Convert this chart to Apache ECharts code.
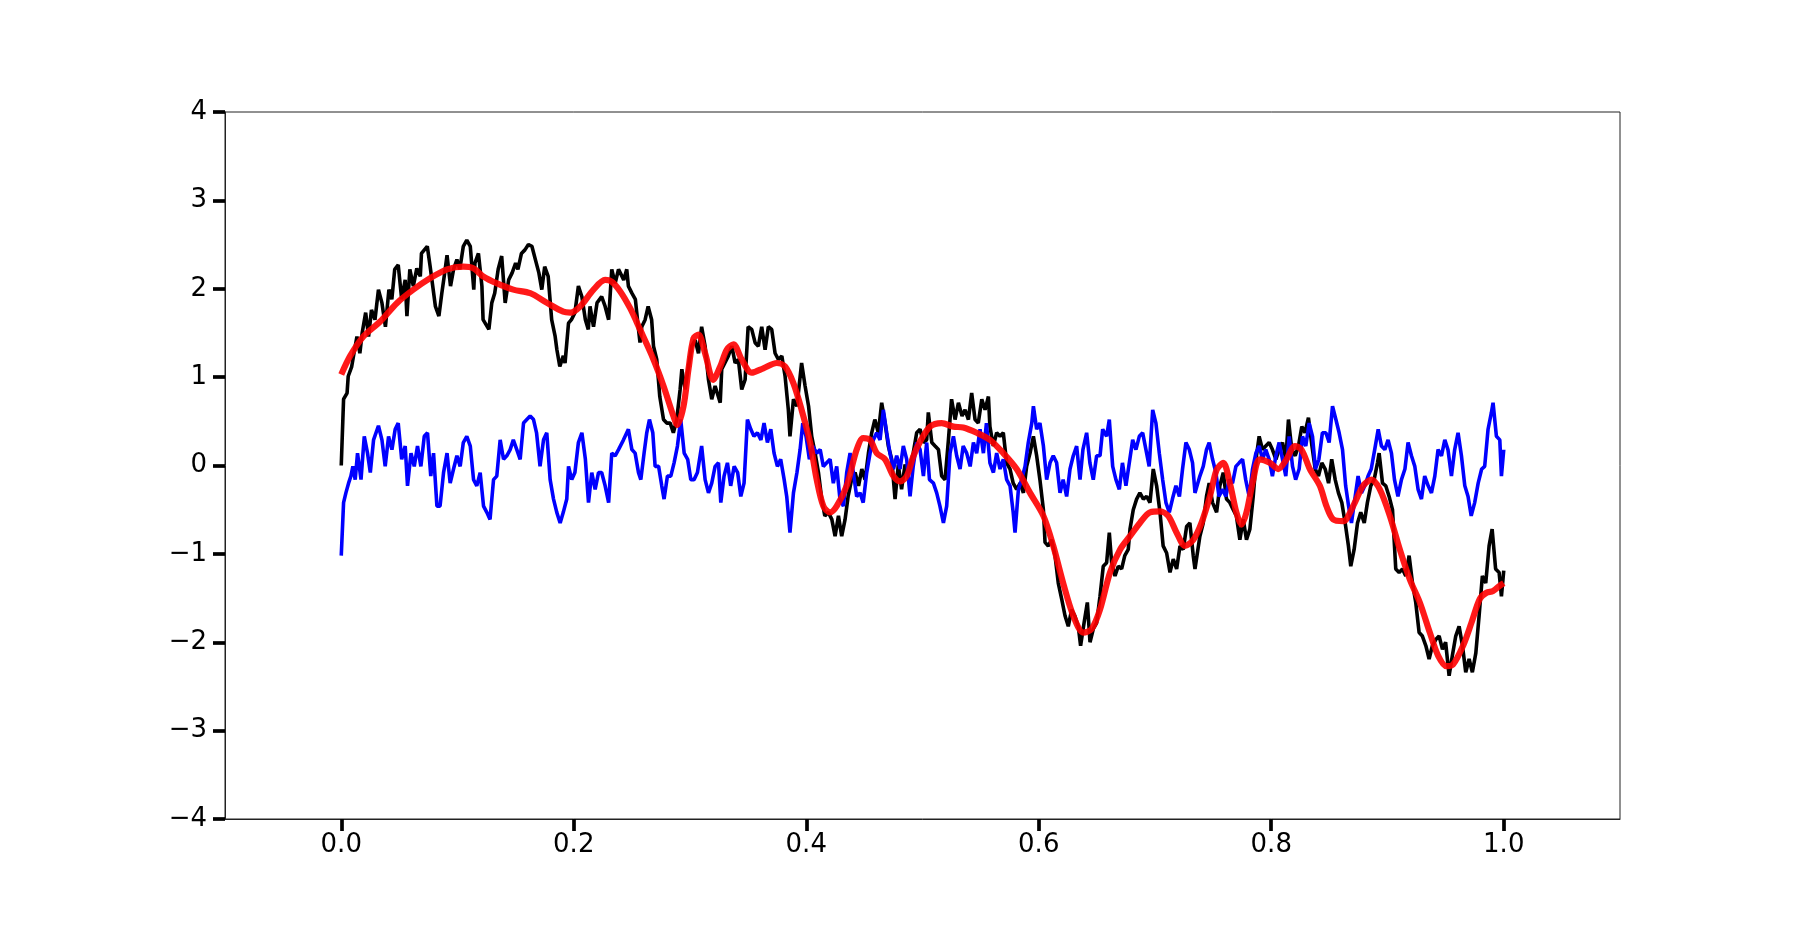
<!DOCTYPE html>
<html>
<head>
<meta charset="utf-8">
<script src="https://cdn.jsdelivr.net/npm/echarts@6/dist/echarts.min.js"></script>
<style>
  html, body { margin: 0; padding: 0; background: #fff; }
  #chart { width: 1800px; height: 936px; }
</style>
</head>
<body>
<div id="chart"></div>
<script>
// tick labels
var xTicks = [0.0, 0.2, 0.4, 0.6, 0.8, 1.0];
var yTicks = [-4, -3, -2, -1, 0, 1, 2, 3, 4];

// noisy path (black), [x, y]
var blackPath = [
  [0, 0.0], [0.002, 0.75], [0.005, 0.82], [0.006, 1.01], [0.009, 1.12], [0.012, 1.35], [0.0135, 1.46],
  [0.016, 1.27], [0.018, 1.50], [0.021, 1.73], [0.0235, 1.46], [0.026, 1.76], [0.029, 1.65], [0.032, 1.99],
  [0.035, 1.84], [0.038, 1.57], [0.041, 1.99], [0.0435, 1.88], [0.046, 2.22], [0.049, 2.27], [0.052, 1.88],
  [0.055, 2.10], [0.0565, 1.69], [0.059, 2.22], [0.062, 2.03], [0.065, 2.23], [0.068, 2.14], [0.069, 2.40],
  [0.074, 2.48], [0.0765, 2.25], [0.078, 2.10], [0.081, 1.80], [0.084, 1.69], [0.0865, 1.95], [0.089, 2.18],
  [0.091, 2.38], [0.094, 2.03], [0.0966, 2.22], [0.0995, 2.33], [0.102, 2.22], [0.105, 2.48], [0.108, 2.55],
  [0.111, 2.48], [0.114, 1.99], [0.115, 2.29], [0.118, 2.40], [0.121, 2.03], [0.122, 1.65], [0.127, 1.54],
  [0.1295, 1.84], [0.132, 1.95], [0.135, 2.22], [0.138, 2.37], [0.141, 1.84], [0.144, 2.10], [0.147, 2.18],
  [0.150, 2.29], [0.152, 2.22], [0.155, 2.40], [0.158, 2.44], [0.161, 2.50], [0.164, 2.48], [0.167, 2.33],
  [0.170, 2.18], [0.1725, 1.99], [0.175, 2.25], [0.178, 2.14], [0.181, 1.65], [0.184, 1.46], [0.1855, 1.31],
  [0.188, 1.12], [0.191, 1.24], [0.1925, 1.16], [0.1955, 1.61], [0.198, 1.65], [0.201, 1.73], [0.204, 2.03],
  [0.207, 1.91], [0.210, 1.65], [0.2125, 1.54], [0.214, 1.80], [0.217, 1.57], [0.220, 1.84], [0.224, 1.91],
  [0.227, 1.80], [0.230, 1.65], [0.2327, 2.22], [0.2356, 2.06], [0.2385, 2.22],
  [0.243, 2.10], [0.2456, 2.22], [0.247, 2.03], [0.250, 1.95], [0.253, 1.88], [0.2557, 1.54], [0.257, 1.39],
  [0.2585, 1.57], [0.2614, 1.65], [0.264, 1.80], [0.267, 1.65], [0.2686, 1.35], [0.2714, 1.20], [0.274, 0.78],
  [0.2772, 0.52], [0.280, 0.48], [0.283, 0.48], [0.2857, 0.37], [0.2886, 0.52], [0.2915, 0.86], [0.293, 1.09],
  [0.2958, 0.86], [0.2987, 1.12], [0.3015, 1.35], [0.3044, 1.42], [0.3073, 1.27], [0.310, 1.57], [0.313, 1.35],
  [0.3159, 0.97], [0.3187, 0.75], [0.3216, 0.90], [0.326, 0.71], [0.3273, 1.09], [0.330, 1.16], [0.333, 1.24],
  [0.336, 1.35], [0.3388, 1.16], [0.3416, 1.20], [0.3445, 0.86], [0.3474, 0.97], [0.350, 1.57], [0.3531, 1.54],
  [0.356, 1.39], [0.3588, 1.35], [0.3617, 1.57], [0.3646, 1.31], [0.3674, 1.57], [0.3703, 1.54], [0.3732, 1.27],
  [0.376, 1.20], [0.379, 1.24], [0.3818, 1.01], [0.3846, 0.63], [0.386, 0.33], [0.389, 0.75], [0.392, 0.67],
  [0.396, 1.16], [0.399, 0.90], [0.402, 0.67], [0.4047, 0.33], [0.4076, 0.14], [0.4105, -0.08], [0.4133, -0.38],
  [0.416, -0.57], [0.419, -0.53], [0.422, -0.61], [0.4248, -0.80], [0.4277, -0.57], [0.4305, -0.80],
  [0.4334, -0.61], [0.436, -0.35], [0.439, -0.16], [0.442, -0.08], [0.445, -0.23], [0.4478, -0.04],
  [0.4506, -0.16], [0.4535, 0.14], [0.4563, 0.37], [0.459, 0.52], [0.462, 0.37], [0.4649, 0.71], [0.4678, 0.48],
  [0.4706, 0.22], [0.4735, 0.07], [0.4764, -0.38], [0.4792, 0.01], [0.482, -0.27], [0.485, 0.01], [0.4878, -0.08],
  [0.492, 0.14], [0.495, 0.37], [0.4979, 0.41], [0.5008, 0.26], [0.5036, 0.29], [0.505, 0.60], [0.508, 0.26],
  [0.5108, 0.22], [0.5137, 0.18], [0.5165, -0.12], [0.5194, -0.16], [0.5223, 0.29], [0.525, 0.75], [0.528, 0.52],
  [0.5309, 0.71], [0.534, 0.56], [0.5366, 0.63], [0.5395, 0.52], [0.5423, 0.82], [0.5452, 0.52], [0.548, 0.48],
  [0.551, 0.75], [0.5538, 0.63], [0.5567, 0.78], [0.558, 0.44], [0.5609, 0.22], [0.5638, 0.37], [0.5667, 0.33],
  [0.5695, 0.37], [0.5724, 0.03], [0.5753, -0.04], [0.578, -0.20], [0.581, -0.27], [0.584, -0.20], [0.5868, -0.31],
  [0.5896, -0.01], [0.5925, 0.14], [0.5954, 0.33], [0.5982, 0.11], [0.601, -0.16], [0.604, -0.50], [0.6054, -0.87],
  [0.6082, -0.91], [0.611, -0.84], [0.614, -1.02], [0.6168, -1.33], [0.6197, -1.51], [0.6226, -1.70],
  [0.6254, -1.82], [0.6283, -1.63], [0.631, -1.70], [0.634, -1.82], [0.636, -2.04], [0.639, -1.78],
  [0.6418, -1.55], [0.6441, -2.00], [0.6469, -1.85], [0.6498, -1.78], [0.6527, -1.48], [0.6555, -1.14],
  [0.6584, -1.10], [0.6607, -0.76], [0.6627, -1.10], [0.6656, -1.25], [0.6684, -1.14], [0.6713, -1.17],
  [0.674, -1.02], [0.677, -0.95], [0.6785, -0.72], [0.6813, -0.50], [0.6842, -0.38], [0.687, -0.31], [0.690, -0.38],
  [0.6928, -0.35], [0.6957, -0.42], [0.6985, -0.04], [0.7014, -0.23], [0.7043, -0.53], [0.707, -0.91],
  [0.710, -0.99], [0.7129, -1.21], [0.7157, -1.06], [0.7186, -1.17], [0.7215, -0.91], [0.7243, -0.95],
  [0.7272, -0.69], [0.730, -0.65], [0.7329, -1.02], [0.7344, -1.17],
  [0.7386, -0.80], [0.7415, -0.65], [0.7443, -0.35], [0.7466, -0.20], [0.7495, -0.42], [0.753, -0.53],
  [0.7558, -0.23], [0.7587, -0.08], [0.7615, -0.38], [0.7644, -0.42], [0.7673, -0.50], [0.770, -0.57],
  [0.773, -0.84], [0.7759, -0.61], [0.7787, -0.84], [0.7816, -0.72], [0.7845, -0.35], [0.7873, 0.11],
  [0.7896, 0.33], [0.7925, 0.18], [0.7953, 0.22], [0.7982, 0.26], [0.801, 0.18], [0.804, 0.07], [0.8068, 0.18],
  [0.8097, 0.26], [0.8125, 0.07], [0.8148, 0.52], [0.8177, 0.18], [0.8206, 0.11], [0.8234, 0.22], [0.8263, 0.44],
  [0.829, 0.37], [0.832, 0.54], [0.835, 0.22], [0.8378, -0.04], [0.8406, -0.12], [0.8435, 0.03], [0.8464, -0.04],
  [0.8493, -0.20], [0.852, 0.07], [0.855, -0.16], [0.8578, -0.31], [0.8607, -0.42], [0.8636, -0.65],
  [0.8664, -0.91], [0.8684, -1.14], [0.8713, -0.95], [0.8742, -0.65], [0.877, -0.53], [0.880, -0.65],
  [0.8827, -0.42], [0.8856, -0.23], [0.8885, -0.16], [0.8914, 0.03], [0.8928, 0.14], [0.8957, -0.20],
  [0.8985, -0.23], [0.9014, -0.35], [0.9043, -0.50], [0.9071, -1.17], [0.910, -1.21], [0.9129, -1.17],
  [0.9157, -1.25], [0.9186, -1.02], [0.9215, -1.33], [0.9243, -1.55], [0.9272, -1.89], [0.930, -1.93],
  [0.933, -2.04], [0.9358, -2.19], [0.9386, -2.04], [0.9415, -1.97], [0.9444, -1.93], [0.9473, -2.08],
  [0.950, -2.00], [0.953, -2.38], [0.9558, -2.15], [0.9587, -1.93], [0.9616, -1.82], [0.9645, -2.04],
  [0.9673, -2.34], [0.9702, -2.19], [0.973, -2.34], [0.976, -2.12], [0.9788, -1.70], [0.9816, -1.25],
  [0.9845, -1.33], [0.9874, -0.91], [0.990, -0.72], [0.993, -1.17], [0.996, -1.21], [0.998, -1.48], [1.0, -1.19]
];

// noisy path around zero (blue)
var bluePath = [
  [0, -1.02], [0.002, -0.42], [0.004, -0.31], [0.0063, -0.20], [0.0083, -0.12], [0.010, -0.01], [0.012, -0.16],
  [0.014, 0.14], [0.017, -0.16], [0.0198, 0.33], [0.0226, 0.14], [0.025, -0.08], [0.0278, 0.29], [0.032, 0.45],
  [0.035, 0.29], [0.0378, -0.01], [0.0407, 0.33], [0.0436, 0.18], [0.0464, 0.41], [0.049, 0.48], [0.052, 0.07],
  [0.055, 0.22], [0.057, -0.23], [0.060, 0.14], [0.0628, -0.01], [0.0656, 0.22], [0.0685, -0.01], [0.0714, 0.33],
  [0.0742, 0.37], [0.077, -0.12], [0.0794, 0.14], [0.0823, -0.46], [0.085, -0.46], [0.088, -0.08], [0.091, 0.14],
  [0.0937, -0.20], [0.0966, -0.04], [0.0995, 0.11], [0.1023, -0.01], [0.105, 0.26], [0.108, 0.33], [0.111, 0.22],
  [0.1138, -0.16], [0.1166, -0.23], [0.1195, -0.08], [0.1224, -0.46], [0.1252, -0.53], [0.128, -0.61],
  [0.131, -0.16], [0.1338, -0.12], [0.1367, 0.29], [0.1396, 0.07], [0.1424, 0.11], [0.1453, 0.18], [0.148, 0.29],
  [0.151, 0.18], [0.1539, 0.07], [0.1568, 0.48], [0.1596, 0.52], [0.1625, 0.56], [0.1654, 0.52], [0.168, 0.37],
  [0.171, -0.01], [0.174, 0.29], [0.1768, 0.37], [0.1797, -0.16], [0.1826, -0.38], [0.1854, -0.53],
  [0.1883, -0.65], [0.191, -0.53], [0.194, -0.38], [0.1955, -0.01], [0.1983, -0.16], [0.201, -0.08],
  [0.204, 0.26], [0.207, 0.37], [0.210, 0.07], [0.2127, -0.42], [0.2155, -0.08], [0.2184, -0.27], [0.2213, -0.08],
  [0.224, -0.08], [0.227, -0.23], [0.230, -0.42], [0.2327, 0.14], [0.2356, 0.11], [0.2385, 0.18],
  [0.2428, 0.29], [0.2456, 0.37], [0.247, 0.41], [0.250, 0.18], [0.2528, 0.14], [0.2557, -0.08], [0.2577, -0.16],
  [0.2605, 0.14], [0.2628, 0.37], [0.2651, 0.52], [0.268, 0.37], [0.270, -0.01], [0.273, -0.01], [0.2757, -0.23],
  [0.2777, -0.38], [0.2806, -0.12], [0.2835, -0.12], [0.2863, 0.03], [0.2892, 0.22], [0.292, 0.52], [0.295, 0.14],
  [0.298, 0.07], [0.3007, -0.16], [0.3035, -0.16], [0.3064, -0.08], [0.310, 0.22], [0.313, -0.16], [0.3159, -0.31],
  [0.3187, -0.20], [0.3216, -0.01], [0.3245, 0.03], [0.3265, -0.42], [0.3293, -0.12], [0.3322, 0.03],
  [0.335, -0.23], [0.338, -0.01], [0.341, -0.08], [0.3437, -0.35], [0.3465, -0.20], [0.3494, 0.52], [0.3523, 0.41],
  [0.355, 0.33], [0.358, 0.37], [0.361, 0.29], [0.3637, 0.48], [0.3666, 0.26], [0.3695, 0.41], [0.3723, 0.14],
  [0.3752, -0.01], [0.378, 0.07], [0.381, -0.16], [0.3832, -0.35], [0.386, -0.76], [0.389, -0.31], [0.392, -0.08],
  [0.3947, 0.18], [0.397, 0.48], [0.3998, 0.33], [0.4027, 0.07], [0.4056, 0.22], [0.409, 0.14], [0.412, 0.18],
  [0.4147, -0.01], [0.4176, 0.03], [0.4205, 0.07], [0.4233, -0.20], [0.4262, -0.01], [0.429, -0.38],
  [0.432, -0.46], [0.4348, -0.08], [0.4377, 0.14], [0.4405, -0.08], [0.4434, -0.35], [0.4463, -0.31],
  [0.449, -0.42], [0.452, -0.08], [0.4549, 0.14], [0.4577, 0.29], [0.4606, 0.37], [0.4635, 0.29], [0.4663, 0.63],
  [0.4692, 0.37], [0.472, 0.14], [0.475, -0.04], [0.4778, 0.11], [0.4807, -0.04], [0.4835, 0.22], [0.4864, 0.07],
  [0.4893, -0.35], [0.492, -0.01], [0.495, 0.26], [0.4979, 0.18], [0.5008, -0.12], [0.5036, 0.26], [0.506, -0.16],
  [0.5094, -0.20], [0.5122, -0.31], [0.515, -0.46], [0.518, -0.65], [0.5208, -0.46], [0.5237, 0.14],
  [0.5266, 0.33], [0.5294, 0.11], [0.5323, -0.04], [0.535, 0.22], [0.538, 0.14], [0.541, -0.01], [0.5438, 0.26],
  [0.5466, 0.14], [0.5495, 0.41], [0.5524, 0.14], [0.555, 0.48], [0.558, 0.03], [0.561, -0.08], [0.5638, 0.14],
  [0.5667, -0.04], [0.5695, 0.07], [0.5724, -0.16], [0.5753, -0.23], [0.578, -0.53], [0.5796, -0.76],
  [0.5825, -0.27], [0.5853, -0.16], [0.5882, -0.01], [0.591, 0.26], [0.594, 0.48], [0.5954, 0.67], [0.5982, 0.41],
  [0.601, 0.48], [0.604, 0.22], [0.6068, -0.16], [0.6097, 0.03], [0.6125, 0.11], [0.6154, 0.03], [0.6183, -0.31],
  [0.621, -0.16], [0.624, -0.35], [0.6269, -0.04], [0.6297, 0.11], [0.6326, 0.22], [0.6355, -0.16], [0.638, 0.18],
  [0.6412, 0.37], [0.644, 0.03], [0.6469, -0.16], [0.6498, 0.11], [0.6527, 0.11], [0.655, 0.41], [0.6584, 0.33],
  [0.6607, 0.52], [0.6636, -0.01], [0.6664, -0.16], [0.6693, -0.27], [0.672, 0.03], [0.675, -0.23],
  [0.6779, 0.03], [0.6808, 0.29], [0.6836, 0.18], [0.6865, 0.33], [0.6894, 0.37], [0.6922, 0.18], [0.695, -0.01],
  [0.698, 0.63], [0.7008, 0.48], [0.7037, 0.14], [0.7066, -0.16], [0.7094, -0.42], [0.7123, -0.53], [0.715, -0.38],
  [0.718, -0.23], [0.721, -0.35], [0.7237, -0.04], [0.7266, 0.26], [0.7295, 0.18], [0.7323, 0.03], [0.7344, -0.31],
  [0.7386, -0.12], [0.7415, -0.01], [0.7443, 0.18], [0.7466, 0.26], [0.7495, 0.07], [0.7524, -0.08],
  [0.755, -0.35], [0.7581, -0.27], [0.761, -0.35], [0.7638, -0.16], [0.7667, -0.20], [0.7696, -0.01],
  [0.7724, 0.03], [0.7753, 0.07], [0.778, -0.16], [0.781, -0.35], [0.7839, -0.04], [0.7868, 0.14], [0.7896, 0.22],
  [0.7925, 0.07], [0.7953, 0.18], [0.7982, 0.07], [0.801, -0.12], [0.804, 0.11], [0.8068, 0.26], [0.8097, 0.07],
  [0.8125, -0.12], [0.8154, 0.33], [0.8183, -0.01], [0.821, -0.16], [0.824, -0.04], [0.8269, 0.33], [0.8297, 0.22],
  [0.8326, 0.48], [0.8355, 0.33], [0.838, -0.04], [0.841, 0.07], [0.844, 0.37], [0.847, 0.37], [0.8498, 0.26],
  [0.8527, 0.67], [0.8556, 0.52], [0.8584, 0.37], [0.8613, 0.18], [0.864, -0.23], [0.867, -0.50], [0.869, -0.65],
  [0.8719, -0.38], [0.8747, -0.12], [0.8776, -0.31], [0.8805, -0.23], [0.8833, -0.12], [0.886, -0.04],
  [0.889, 0.18], [0.892, 0.41], [0.8948, 0.22], [0.8977, 0.18], [0.9005, 0.29], [0.9034, 0.14], [0.906, -0.16],
  [0.909, -0.35], [0.912, -0.16], [0.915, -0.04], [0.9177, 0.26], [0.9206, 0.11], [0.9235, -0.01], [0.9263, -0.27],
  [0.9292, -0.38], [0.932, -0.12], [0.935, -0.23], [0.9378, -0.31], [0.9407, -0.12], [0.9435, 0.18],
  [0.9464, 0.11], [0.9493, 0.29], [0.952, 0.18], [0.955, -0.12], [0.9578, 0.18], [0.9607, 0.37], [0.9636, 0.11],
  [0.9665, -0.23], [0.9693, -0.35], [0.972, -0.57], [0.975, -0.42], [0.978, -0.20], [0.981, -0.04],
  [0.9836, -0.01], [0.9865, 0.41], [0.9894, 0.60], [0.9908, 0.71], [0.9937, 0.33], [0.9966, 0.29], [0.998, -0.12],
  [1.0, 0.18]
];

// smooth fit (red)
var redPath = [
  [0, 1.03], [0.0077, 1.24], [0.019, 1.46], [0.0335, 1.63], [0.048, 1.84], [0.062, 1.99], [0.0765, 2.12],
  [0.091, 2.22], [0.105, 2.25], [0.114, 2.23], [0.122, 2.14], [0.134, 2.06], [0.148, 1.99], [0.1625, 1.95],
  [0.177, 1.84], [0.191, 1.74], [0.197, 1.73], [0.2055, 1.80], [0.217, 1.99], [0.227, 2.10], [0.2327, 2.08],
  [0.240, 1.97], [0.2485, 1.78], [0.257, 1.54], [0.2686, 1.20], [0.2772, 0.90], [0.2857, 0.56], [0.289, 0.46],
  [0.2944, 0.67], [0.2987, 1.09], [0.303, 1.44], [0.3073, 1.48], [0.313, 1.27], [0.320, 0.97], [0.326, 1.12],
  [0.3316, 1.31], [0.3374, 1.37], [0.3445, 1.20], [0.3531, 1.05], [0.3631, 1.10], [0.3746, 1.16], [0.3818, 1.12],
  [0.389, 0.93], [0.396, 0.63], [0.4033, 0.26], [0.409, -0.16], [0.4147, -0.46], [0.4205, -0.53], [0.4262, -0.46],
  [0.4348, -0.23], [0.4434, 0.18], [0.449, 0.31], [0.4549, 0.29], [0.4606, 0.14], [0.4678, 0.07], [0.475, -0.12],
  [0.4807, -0.18], [0.4864, -0.12], [0.492, 0.10], [0.4979, 0.27], [0.5065, 0.44], [0.5165, 0.48], [0.5266, 0.44],
  [0.535, 0.43], [0.5466, 0.37], [0.558, 0.29], [0.5695, 0.14], [0.581, -0.04], [0.5925, -0.31], [0.604, -0.57],
  [0.6125, -0.91], [0.621, -1.33], [0.6297, -1.70], [0.6384, -1.89], [0.6455, -1.85], [0.6527, -1.63],
  [0.6613, -1.21], [0.670, -0.95], [0.6785, -0.80], [0.687, -0.65], [0.6957, -0.53], [0.7043, -0.52],
  [0.7114, -0.57], [0.7186, -0.76], [0.7258, -0.91], [0.733, -0.84], [0.740, -0.65], [0.7472, -0.35],
  [0.753, -0.05], [0.7587, 0.03], [0.7644, -0.20], [0.770, -0.53], [0.7744, -0.67], [0.7787, -0.53],
  [0.7845, -0.16], [0.790, 0.07], [0.7988, 0.03], [0.806, -0.04], [0.8131, 0.07], [0.8203, 0.22], [0.826, 0.18],
  [0.8332, -0.04], [0.8418, -0.23], [0.8475, -0.46], [0.8533, -0.61], [0.862, -0.63], [0.8704, -0.46],
  [0.879, -0.23], [0.8862, -0.16], [0.8934, -0.27], [0.902, -0.57], [0.9106, -0.95], [0.9192, -1.29],
  [0.9278, -1.55], [0.9364, -1.89], [0.9435, -2.15], [0.9507, -2.27], [0.9565, -2.25], [0.965, -2.04],
  [0.9722, -1.78], [0.9794, -1.51], [0.9851, -1.44], [0.9908, -1.42], [0.9966, -1.36], [1.0, -1.33]
];

var chart = echarts.init(document.getElementById('chart'));

var labelFont = {
    color: '#000',
    fontFamily: 'DejaVu Sans',
    fontSize: 26
};

var option = {
    animation: false,
    backgroundColor: '#fff',
    grid: {
        left: 225,
        top: 112,
        width: 1395,
        height: 707,
        show: true,
        borderColor: '#222',
        borderWidth: 1
    },
    xAxis: {
        type: 'value',
        min: -0.1,
        max: 1.1,
        splitLine: { show: false },
        axisLine: { show: true, onZero: false, lineStyle: { color: '#222', width: 1 } },
        axisTick: {
            show: true,
            customValues: xTicks,
            length: 12,
            lineStyle: { color: '#000', width: 3.7 }
        },
        axisLabel: Object.assign({
            customValues: xTicks,
            margin: 13,
            formatter: function (v) { return v.toFixed(1); }
        }, labelFont)
    },
    yAxis: {
        type: 'value',
        min: -4,
        max: 4,
        interval: 1,
        splitLine: { show: false },
        axisLine: { show: true, onZero: false, lineStyle: { color: '#222', width: 1 } },
        axisTick: {
            show: true,
            customValues: yTicks,
            length: 12,
            lineStyle: { color: '#000', width: 3.7 }
        },
        axisLabel: Object.assign({
            customValues: yTicks,
            margin: 18,
            formatter: function (v) { return String(v).replace('-', '\u2212'); }
        }, labelFont)
    },
    series: [
        {
            name: 'path',
            type: 'line',
            data: blackPath,
            showSymbol: false,
            lineStyle: { color: '#000', width: 3.6 }
        },
        {
            name: 'noise',
            type: 'line',
            data: bluePath,
            showSymbol: false,
            lineStyle: { color: '#0000ff', width: 3.6 }
        },
        {
            name: 'fit',
            type: 'line',
            data: redPath,
            showSymbol: false,
            smooth: 0.3,
            lineStyle: { color: '#ff0000', width: 6.2, opacity: 0.9 }
        }
    ]
};

chart.setOption(option);
</script>
</body>
</html>
